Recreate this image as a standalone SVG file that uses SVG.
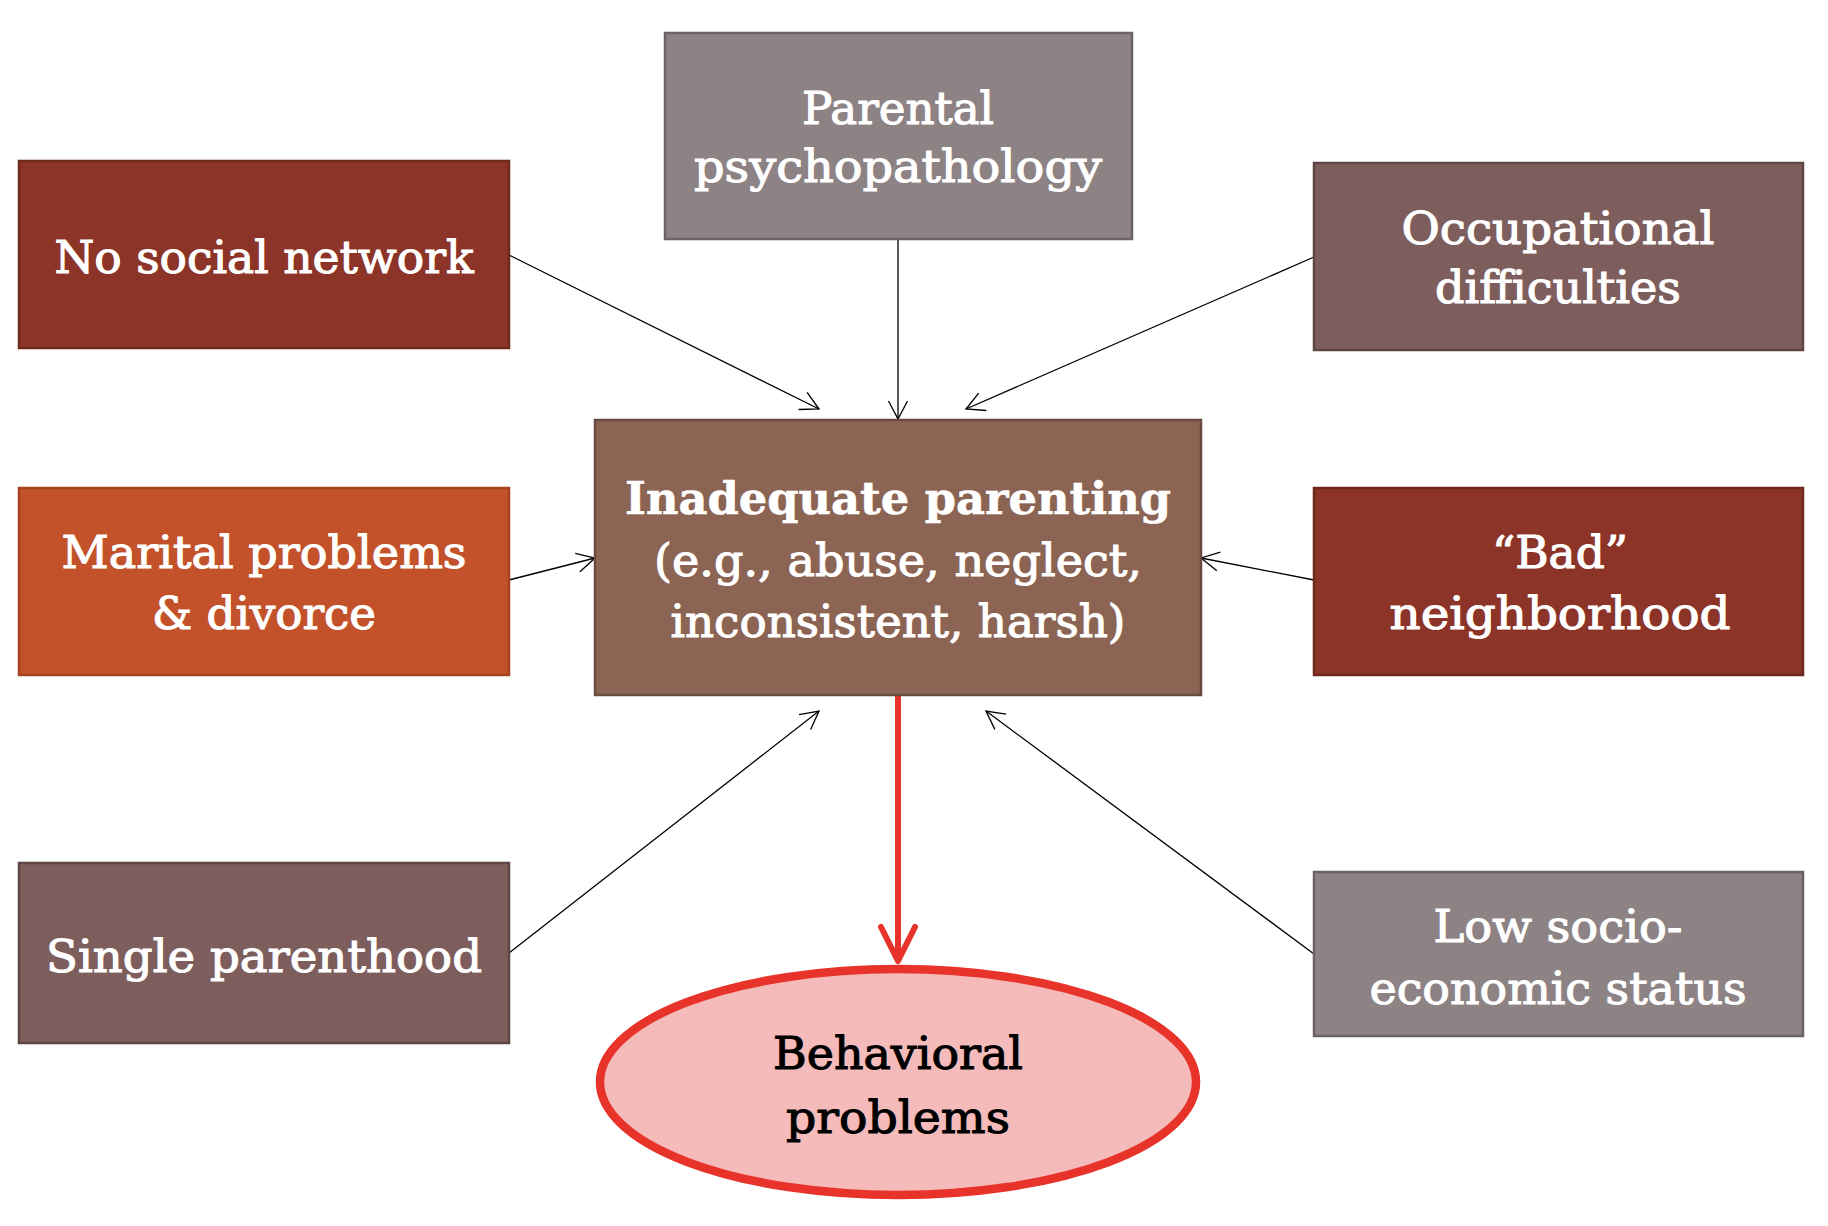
<svg xmlns="http://www.w3.org/2000/svg" width="1828" height="1226" viewBox="0 0 1828 1226">
<defs>
<style>
.t{font-family:"DejaVu Serif","Liberation Serif",serif;font-size:45px;fill:#ffffff;stroke:#ffffff;stroke-width:1.1;text-anchor:middle}
.b{font-weight:bold;stroke-width:0.6}
.k{fill:#000000;stroke:#000000}
.box{stroke-width:2.5}
.red{fill:#8C3427;stroke:#6E281D}
.gray{fill:#8E8384;stroke:#6B6263}
.mauve{fill:#7E5E5D;stroke:#5F4645}
.orange{fill:#C3522B;stroke:#A4431F}
.brown{fill:#8C6453;stroke:#6A4B3F}
.conn{stroke:#000000;stroke-width:1.3;fill:none}
</style>
<marker id="ah" markerUnits="userSpaceOnUse" markerWidth="40" markerHeight="40" viewBox="-25 -20 30 40" refX="0" refY="0" orient="auto">
<path d="M-18,-9.5 L0,0 L-18,9.5" fill="none" stroke="#000000" stroke-width="1.3"/>
</marker>
<marker id="ahr" markerUnits="userSpaceOnUse" markerWidth="60" markerHeight="60" viewBox="-40 -30 50 60" refX="0" refY="0" orient="auto">
<path d="M-34,-17 L0,0 L-34,17" fill="none" stroke="#E8332A" stroke-width="6" stroke-linecap="round" stroke-linejoin="round"/>
</marker>
</defs>
<rect width="1828" height="1226" fill="#ffffff"/>
<g id="connectors">
<line class="conn" x1="509" y1="255" x2="819" y2="409" marker-end="url(#ah)"/>
<line class="conn" x1="898" y1="239" x2="898" y2="419" marker-end="url(#ah)"/>
<line class="conn" x1="1314" y1="257" x2="966" y2="409" marker-end="url(#ah)"/>
<line class="conn" x1="509" y1="580" x2="595" y2="558" marker-end="url(#ah)"/>
<line class="conn" x1="1314" y1="580" x2="1201" y2="558" marker-end="url(#ah)"/>
<line class="conn" x1="509" y1="953" x2="819" y2="711" marker-end="url(#ah)"/>
<line class="conn" x1="1314" y1="954" x2="986" y2="711" marker-end="url(#ah)"/>
<line x1="898" y1="696" x2="898" y2="961" stroke="#E8332A" stroke-width="6" marker-end="url(#ahr)"/>
</g>
<g id="parental">
<rect class="box gray" x="665" y="33" width="467" height="206"/>
<text class="t" x="898" y="124" textLength="192" lengthAdjust="spacingAndGlyphs">Parental</text>
<text class="t" x="898" y="182" textLength="408" lengthAdjust="spacingAndGlyphs">psychopathology</text>
</g>
<g id="social">
<rect class="box red" x="19" y="161" width="490" height="187"/>
<text class="t" x="264" y="273" textLength="419" lengthAdjust="spacingAndGlyphs">No social network</text>
</g>
<g id="occupational">
<rect class="box mauve" x="1314" y="163" width="489" height="187"/>
<text class="t" x="1558" y="244" textLength="313" lengthAdjust="spacingAndGlyphs">Occupational</text>
<text class="t" x="1558" y="303" textLength="246" lengthAdjust="spacingAndGlyphs">difficulties</text>
</g>
<g id="parenting">
<rect class="box brown" x="595" y="420" width="606" height="275"/>
<text class="t b" x="898" y="514" textLength="546" lengthAdjust="spacingAndGlyphs">Inadequate parenting</text>
<text class="t" x="898" y="576" textLength="488" lengthAdjust="spacingAndGlyphs">(e.g., abuse, neglect,</text>
<text class="t" x="898" y="637" textLength="455" lengthAdjust="spacingAndGlyphs">inconsistent, harsh)</text>
</g>
<g id="marital">
<rect class="box orange" x="19" y="488" width="490" height="187"/>
<text class="t" x="264" y="568" textLength="405" lengthAdjust="spacingAndGlyphs">Marital problems</text>
<text class="t" x="264" y="629" textLength="224" lengthAdjust="spacingAndGlyphs">&amp; divorce</text>
</g>
<g id="neighborhood">
<rect class="box red" x="1314" y="488" width="489" height="187"/>
<text class="t" x="1560" y="568" textLength="136" lengthAdjust="spacingAndGlyphs">“Bad”</text>
<text class="t" x="1560" y="629" textLength="341" lengthAdjust="spacingAndGlyphs">neighborhood</text>
</g>
<g id="single">
<rect class="box mauve" x="19" y="863" width="490" height="180"/>
<text class="t" x="264" y="972" textLength="436" lengthAdjust="spacingAndGlyphs">Single parenthood</text>
</g>
<g id="ses">
<rect class="box gray" x="1314" y="872" width="489" height="164"/>
<text class="t" x="1558" y="942" textLength="249" lengthAdjust="spacingAndGlyphs">Low socio-</text>
<text class="t" x="1558" y="1004" textLength="377" lengthAdjust="spacingAndGlyphs">economic status</text>
</g>
<g id="behavioral">
<ellipse cx="898" cy="1082" rx="298" ry="113" fill="#F4BBBA" stroke="#E8332A" stroke-width="8.5"/>
<text class="t k" x="898" y="1069" textLength="250" lengthAdjust="spacingAndGlyphs">Behavioral</text>
<text class="t k" x="898" y="1133" textLength="224" lengthAdjust="spacingAndGlyphs">problems</text>
</g>
</svg>
